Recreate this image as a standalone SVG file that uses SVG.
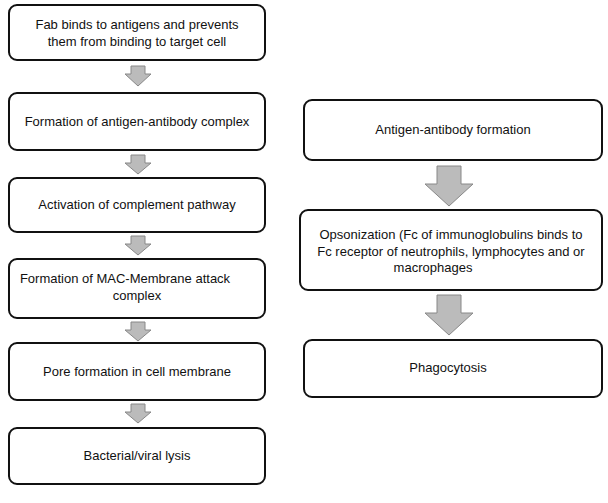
<svg xmlns="http://www.w3.org/2000/svg" width="608" height="503" viewBox="0 0 608 503">
<style>
.b{fill:#fff;stroke:#111;stroke-width:2}
.t{font-family:"Liberation Sans",Arial,sans-serif;font-size:13px;fill:#111;text-anchor:middle}
.a{fill:#bbb;stroke:#888;stroke-width:1}
</style>
<rect width="608" height="503" fill="#fff"/>
<g id="connectors">
<path class="a" d="M131,66h14v8h6l-13,12l-13,-12h6z"/>
<path class="a" d="M131,155h14v8h6l-13,11l-13,-11h6z"/>
<path class="a" d="M131,236h14v8h6l-13,11l-13,-11h6z"/>
<path class="a" d="M131,322h14v8h6l-13,11l-13,-11h6z"/>
<path class="a" d="M131,404h14v8h6l-13,11l-13,-11h6z"/>
<path class="a" d="M437,166h24v18h12l-24,22l-24,-22h12z"/>
<path class="a" d="M437,295h24v18h12l-24,22l-24,-22h12z"/>
</g>
<g id="n1"><rect class="b" x="9" y="5" width="256" height="55" rx="8"/><text class="t" x="137" y="29">Fab binds to antigens and prevents</text><text class="t" x="137" y="46">them from binding to target cell</text></g>
<g id="n2"><rect class="b" x="9" y="93" width="256" height="57" rx="8"/><text class="t" x="137" y="126">Formation of antigen-antibody complex</text></g>
<g id="n3"><rect class="b" x="9" y="178" width="256" height="54" rx="8"/><text class="t" x="137" y="209">Activation of complement pathway</text></g>
<g id="n4"><rect class="b" x="9" y="259" width="256" height="59" rx="8"/><text class="t" x="125" y="283">Formation of MAC-Membrane attack</text><text class="t" x="137" y="300">complex</text></g>
<g id="n5"><rect class="b" x="9" y="343" width="256" height="57" rx="8"/><text class="t" x="137" y="376">Pore formation in cell membrane</text></g>
<g id="n6"><rect class="b" x="9" y="428" width="256" height="56" rx="8"/><text class="t" x="137" y="460">Bacterial/viral lysis</text></g>
<g id="r1"><rect class="b" x="304" y="100" width="298" height="60" rx="8"/><text class="t" x="453" y="134">Antigen-antibody formation</text></g>
<g id="r2"><rect class="b" x="300" y="210" width="302" height="80" rx="8"/><text class="t" x="451" y="239">Opsonization (Fc of immunoglobulins binds to</text><text class="t" x="451" y="256">Fc receptor of neutrophils, lymphocytes and or</text><text class="t" x="433" y="272">macrophages</text></g>
<g id="r3"><rect class="b" x="304" y="340" width="298" height="57" rx="8"/><text class="t" x="448" y="372">Phagocytosis</text></g>
</svg>
